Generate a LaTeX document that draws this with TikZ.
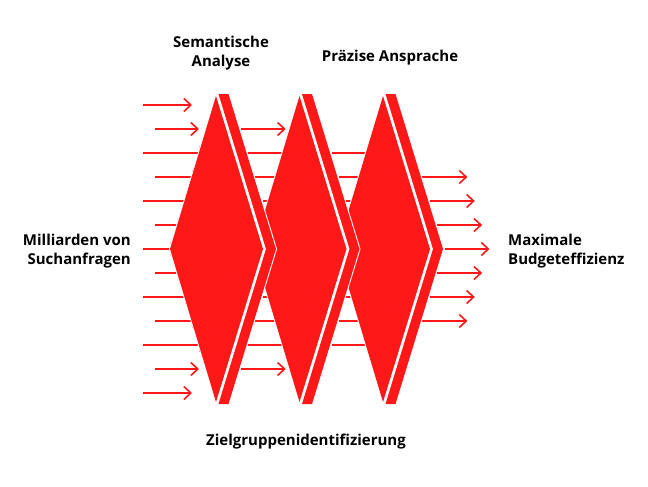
\documentclass[tikz,border=0pt]{standalone}
\usepackage{fontspec}
\setmainfont{Open Sans}
\usetikzlibrary{arrows.meta}
\definecolor{fred}{RGB}{255,24,24}
\tikzset{
  flow/.style={draw=fred, line width=1.6pt, -{Straight Barb[length=7pt,width=13pt,line width=1.6pt]}},
  lbl/.style={font=\bfseries\fontsize{15}{18.5}\selectfont, text=black, inner sep=0pt},
  hull/.style={fill=white, draw=white, line width=2pt, line join=round},
  redfill/.style={fill=fred}
}
\begin{document}
\begin{tikzpicture}[x=1pt,y=-1pt]
\useasboundingbox (0,0) rectangle (648,487);
% input arrows
\foreach \k in {0,...,12}{
  \pgfmathsetmacro\yy{105+24*\k}
  \ifnum\k<2
    \ifodd\k \draw[flow] (155,\yy) coordinate (in\k) -- (199,\yy);
    \else \draw[flow] (143,\yy) coordinate (in\k) -- (192,\yy); \fi
  \else\ifnum\k>10
    \ifodd\k \draw[flow] (155,\yy) coordinate (in\k) -- (199,\yy);
    \else \draw[flow] (143,\yy) coordinate (in\k) -- (192,\yy); \fi
  \else
    \pgfmathsetmacro\xe{179+46*abs(\yy-249)/153}
    \ifodd\k \draw[flow] (155,\yy) coordinate (in\k) -- (\xe,\yy);
    \else \draw[flow] (143,\yy) coordinate (in\k) -- (\xe,\yy); \fi
  \fi\fi
}
% middle arrows 1
\foreach \k in {1,...,11}{
  \pgfmathsetmacro\yy{105+24*\k}
  \pgfmathsetmacro\xs{277.5-47.5*abs(\yy-249)/155}
  \draw[flow] (\xs,\yy) coordinate (ma\k) -- ++(45,0);
}
% middle arrows 2
\foreach \k in {2,...,10}{
  \pgfmathsetmacro\yy{105+24*\k}
  \pgfmathsetmacro\xs{277.5+83.5-47.5*abs(\yy-249)/155}
  \draw[flow] (\xs,\yy) coordinate (mb\k) -- ++(45,0);
}
% output arrows
\foreach \k in {3,...,9}{
  \pgfmathsetmacro\yy{105+24*\k}
  \pgfmathsetmacro\xs{277.5+167-47.5*abs(\yy-249)/155}
  \draw[flow] (\xs,\yy) coordinate (out\k) -- ++(45,0);
}
% filters, drawn right to left
\foreach \dx in {167,83.5,0}{
  \begin{scope}[xshift=\dx pt]
    \filldraw[hull] (170,249) -- (216,96) -- (218.5,94) -- (228.5,94) -- (276,249) -- (228.5,404) -- (218.5,404) -- (216,402) -- cycle;
    \fill[redfill] (170,249) -- (216,96) -- (263,249) -- (216,402) -- cycle;
    \fill[redfill] (218.5,94) -- (228.5,94) -- (276,249) -- (228.5,404) -- (218.5,404) -- (266,249) -- cycle;
  \end{scope}
}
% labels
\node[lbl, align=center] (sem) at (221,53) {Semantische\\Analyse};
\node[lbl] (pra) at (390,58) {Präzise Ansprache};
\node[lbl] (ziel) at (306,442) {Zielgruppenidentifizierung};
\node[lbl, align=right, anchor=east] (mil) at (131,251) {Milliarden von\\Suchanfragen};
\node[lbl, align=left, anchor=west] (max) at (508,251) {Maximale\\Budgeteffizienz};
\end{tikzpicture}
\end{document}
